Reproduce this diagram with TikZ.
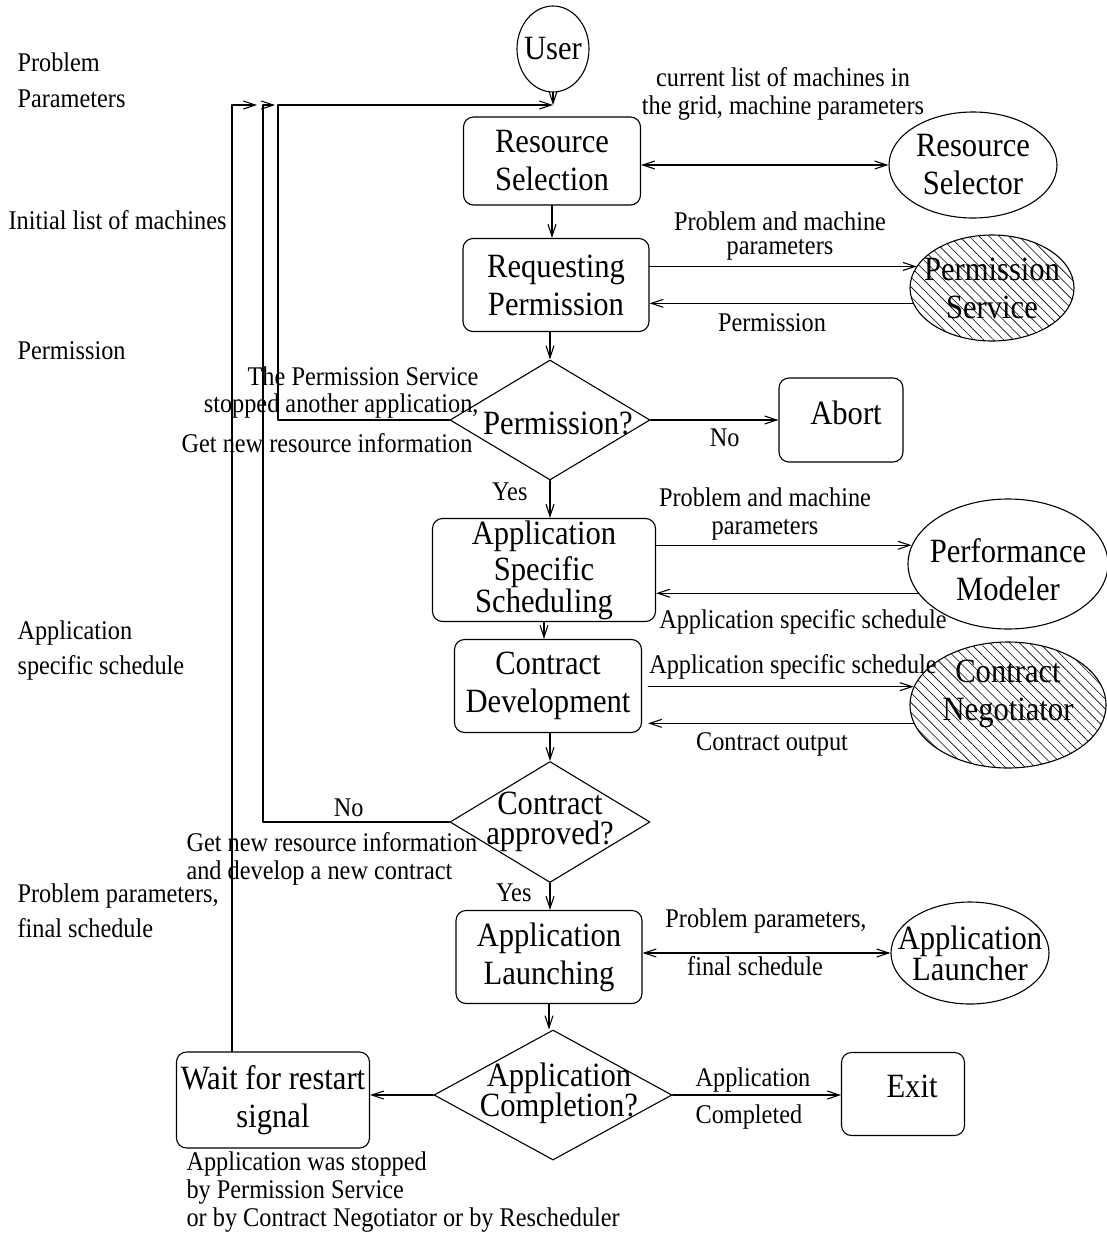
\documentclass[tikz,border=0pt]{standalone}
\usepackage{fontspec}
\setmainfont{Liberation Serif}[FakeStretch=0.9]
\usetikzlibrary{shapes.geometric,arrows.meta,patterns.meta}
\tikzset{
	big/.style={font=\fontsize{34}{38}\selectfont,align=center},
	lbl/.style={font=\fontsize{27}{28}\selectfont,inner sep=0pt,align=center},
	box/.style={draw,big,rounded corners=10pt,inner sep=0pt},
	oval/.style={draw,ellipse,inner sep=0pt},
	hatched/.style={oval,pattern={Lines[angle=-45,distance=7pt,line width=0.6pt]}},
	decision/.style={draw,diamond,inner sep=0pt}
}
\begin{document}
\begin{tikzpicture}[line cap=round,line join=round,>={Straight Barb[length=12pt,width=8pt]},x=1pt,y=-1pt,line width=1.1pt]
		\useasboundingbox (0,0) rectangle (1107,1237);
		\node[oval,minimum width=72pt,minimum height=86pt,label={[big,name=user-t]center:User}] (user) at (553,49) {};
		\node[box,minimum width=177pt,minimum height=88pt] (rsel) at (552,161) {Resource\\Selection};
		\node[oval,minimum width=168pt,minimum height=106pt,label={[big,name=rsor-t]center:Resource\\Selector}] (rsor) at (973,165) {};
		\node[box,minimum width=186pt,minimum height=93pt] (rperm) at (556,285) {Requesting\\Permission};
		\node[hatched,minimum width=164pt,minimum height=106pt,label={[big,name=psvc-t]center:Permission\\Service}] (psvc) at (992,288) {};
		\node[decision,minimum width=200pt,minimum height=120pt,label={[big,name=permq-t,xshift=8pt,yshift=-3pt]center:Permission?}] (permq) at (550,420) {};
		\node[box,minimum width=124pt,minimum height=84pt,label={[big,name=abort-t,xshift=5pt,yshift=7pt]center:Abort}] (abort) at (841,420) {};
		\node[box,minimum width=223pt,minimum height=103pt] (asched) at (544,570) {Application\\[-2pt]Specific\\[-6pt]Scheduling};
		\node[oval,minimum width=200pt,minimum height=130pt,label={[big,name=pmod-t,yshift=-6pt]center:Performance\\Modeler}] (pmod) at (1008,564) {};
		\node[box,minimum width=187pt,minimum height=93pt] (cdev) at (548,686) {Contract\\Development};
		\node[hatched,minimum width=196pt,minimum height=126pt,label={[big,name=cneg-t,yshift=11pt]center:Contract\\Negotiator}] (cneg) at (1008,705) {};
		\node[decision,minimum width=200pt,minimum height=121pt,label={[big,name=capp-t]center:Contract\\[-8pt]approved?}] (capp) at (550,822) {};
		\node[box,minimum width=186pt,minimum height=93pt] (alaunch) at (549,957) {Application\\Launching};
		\node[oval,minimum width=158pt,minimum height=102pt,label={[big,name=alr-t]center:Application\\[-7pt]Launcher}] (alauncher) at (970,953) {};
		\node[decision,minimum width=238pt,minimum height=130pt,label={[big,name=acomp-t,xshift=6pt,yshift=2pt]center:Application\\[-8pt]Completion?}] (acomp) at (553,1095) {};
		\node[box,minimum width=123pt,minimum height=83pt,label={[big,name=exit-t,xshift=9pt,yshift=8pt]center:Exit}] (exitb) at (903,1094) {};
		\node[box,minimum width=193pt,minimum height=96pt] (wait) at (273,1100) {Wait for restart\\signal};
		\coordinate (top) at (553,105);
		\coordinate (inA) at (257,105);
		\coordinate (inB) at (275,105);
		\draw[->] (user.south) -- (top);
		\draw[->] (permq.west) -| (278,105) -- (top);
		\draw[->] (capp.west) -| node[lbl,pos=0.27,above=5pt] {No} (263,105) -- (inB);
		\draw[->] ([xshift=-41pt]wait.north) -- (232,105) -- (inA);
		\draw[->] (rsel.south) -- (rsel.south |- rperm.north);
		\draw[->] (permq.north |- rperm.south) -- (permq.north);
		\draw[->] (permq.south) -- (permq.south |- asched.north) node[lbl,pos=0.3,left=22pt] {Yes};
		\draw[->] (permq.east) -- (abort.west) node[lbl,pos=0.58,below=8pt] {No};
		\draw[->] (asched.south) -- (asched.south |- cdev.north);
		\draw[->] (capp.north |- cdev.south) -- (capp.north);
		\draw[->] (capp.south) -- (capp.south |- alaunch.north) node[lbl,pos=0.35,left=18pt] {Yes};
		\draw[->] (alaunch.south) -- (alaunch.south |- acomp.north);
		\draw[->] (acomp.east) -- (acomp.east -| exitb.west);
		\draw[->] (acomp.west) -- (acomp.west -| wait.east);
		\draw[<->] (rsel.east |- rsor.west) -- (rsor.west);
		\draw[->] (rperm.east |- psvc.164) -- (psvc.164);
		\draw[->] (psvc.191) -- (psvc.191 -| rperm.east);
		\draw[->] (asched.east |- pmod.169) -- (pmod.169);
		\draw[->] (pmod.198) -- (pmod.198 -| asched.east);
		\draw[->] ([xshift=6pt]cdev.east |- cneg.169) -- (cneg.169);
		\draw[->] (cneg.191) -- ([xshift=6pt]cneg.191 -| cdev.east);
		\draw[<->] (alaunch.east |- alauncher.west) -- (alauncher.west);
		\node[lbl] (rs-lbl) at (783,94) {current list of machines in\\the grid, machine parameters};
		\node[lbl] (rp-lbl) at (780,236) {Problem and machine\\[-4pt]parameters};
		\node[lbl] (perm-lbl) at (772,323) {Permission};
		\node[lbl] (pm-lbl) at (765,514) {Problem and machine\\parameters};
		\node[lbl] (sched-lbl) at (803,622) {Application specific schedule};
		\node[lbl] (cn-lbl) at (793,667) {Application specific schedule};
		\node[lbl] (out-lbl) at (772,744) {Contract output};
		\node[lbl] (al-lbl) at (766,921) {Problem parameters,};
		\node[lbl] (fin-lbl) at (755,966) {final schedule};
		\node[lbl,align=left,anchor=west] (done-lbl) at (695,1098) {Application\\[9pt]Completed};
		\node[lbl,align=right,anchor=east] (stop-lbl) at (479,393) {The Permission Service\\[-1pt]stopped another application,};
		\node[lbl,anchor=east] (new-lbl) at (473,443) {Get new resource information};
		\node[lbl,align=left,anchor=west] (retry-lbl) at (186,859) {Get new resource information\\and develop a new contract};
		\node[lbl,align=left,anchor=west] (restart-lbl) at (186,1192) {Application was stopped\\by Permission Service\\or by Contract Negotiator or by Rescheduler};
		\node[lbl,align=left,anchor=west] (left1) at (17,80) {Problem\\[8pt]Parameters};
		\node[lbl,anchor=west] (left2) at (8,220) {Initial list of machines};
		\node[lbl,anchor=west] (left3) at (17,351) {Permission};
		\node[lbl,align=left,anchor=west] (left4) at (17,650) {Application\\[7pt]specific schedule};
		\node[lbl,align=left,anchor=west] (left5) at (17,911) {Problem parameters,\\[7pt]final schedule};
		\end{tikzpicture}
\end{document}
